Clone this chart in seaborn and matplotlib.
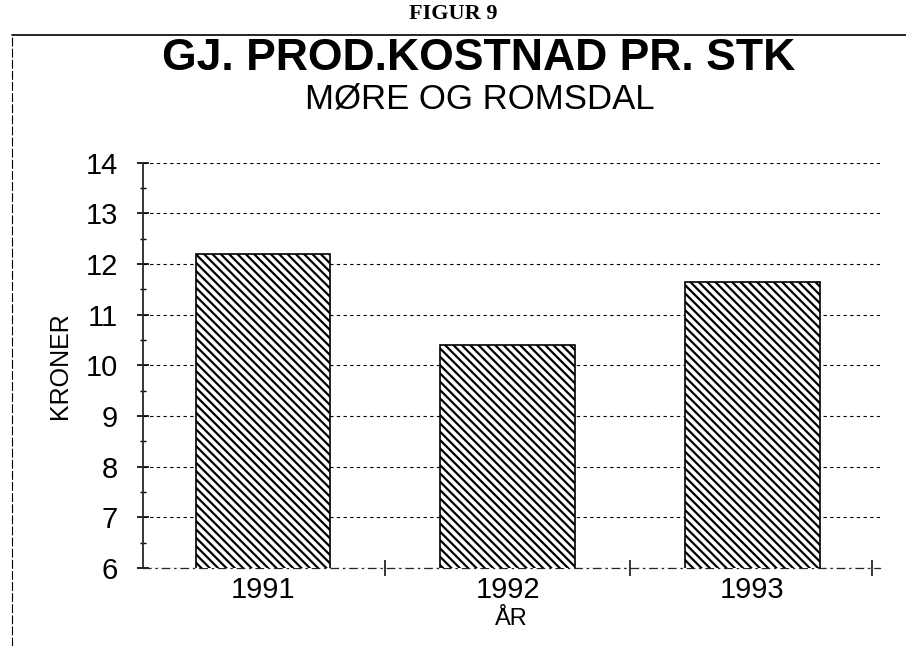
import numpy as np
import pandas as pd
import matplotlib
matplotlib.use("Agg")
import matplotlib.pyplot as plt
import seaborn as sns
from matplotlib.lines import Line2D
from matplotlib.ticker import MultipleLocator, FixedLocator

years = ["1991", "1992", "1993"]
kroner = [12.2, 10.4, 11.65]
yticks = [6, 7, 8, 9, 10, 11, 12, 13, 14]

sns.set_style("white")
plt.rcParams['font.family'] = ['Liberation Sans', 'DejaVu Sans']
plt.rcParams['hatch.linewidth'] = 1.6
plt.rcParams['text.color'] = 'black'
plt.rcParams['axes.labelcolor'] = 'black'
plt.rcParams['xtick.color'] = 'black'
plt.rcParams['ytick.color'] = 'black'

df = pd.DataFrame({"year": years, "kroner": kroner})

fig = plt.figure(figsize=(9.06, 6.46), dpi=100)
ax = fig.add_axes([0.158, 0.121, 0.813, 0.627])

sns.barplot(data=df, x="year", y="kroner", color="white", width=0.55,
            edgecolor="black", linewidth=1.2, ax=ax, zorder=3)
for p in ax.patches:
    p.set_hatch("\\\\\\\\")
    p.set_facecolor("white")
    p.set_edgecolor("black")

ax.set_ylim(6, 14)
ax.set_xlim(-0.49, 2.52)
ax.set_yticks(yticks)
ax.yaxis.set_minor_locator(MultipleLocator(0.5))
ax.xaxis.set_minor_locator(FixedLocator([0.5, 1.5, 2.49]))
ax.grid(axis="y", which="major", linestyle=(0, (3, 3)), color="black",
        linewidth=0.8, zorder=0)
ax.set_axisbelow(True)

for s in ["top", "right"]:
    ax.spines[s].set_visible(False)
ax.spines["left"].set_linewidth(1.3)
ax.spines["bottom"].set_linestyle((0, (6, 4, 1, 4)))
ax.spines["bottom"].set_linewidth(0.9)

ax.tick_params(axis="y", which="major", direction="inout", length=8, width=1.2,
               labelsize=21, left=True, pad=14)
ax.tick_params(axis="y", which="minor", direction="inout", length=5, width=1, left=True)
ax.tick_params(axis="x", which="major", length=0, labelsize=21, pad=6)
ax.tick_params(axis="x", which="minor", direction="inout", length=12, width=1.1, bottom=True)

ax.set_ylabel("KRONER", fontsize=18, labelpad=10)
ax.set_xlabel("ÅR", fontsize=17, labelpad=3)

fig.text(0.5, 0.978, "FIGUR 9", ha="center", va="center", fontsize=16,
         fontweight="bold", family=["Liberation Serif", "DejaVu Serif"])
fig.text(0.528, 0.909, "GJ. PROD.KOSTNAD PR. STK", ha="center", va="center",
         fontsize=32, fontweight="bold")
fig.text(0.53, 0.846, "MØRE OG ROMSDAL", ha="center", va="center", fontsize=25)

# frame lines of the original sheet
fig.add_artist(Line2D([0.013, 1.0], [0.946, 0.946], color="black", linewidth=1.2,
                      transform=fig.transFigure))
fig.add_artist(Line2D([0.013, 0.013], [0.0, 0.946], color="black", linewidth=0.8,
                      linestyle=(0, (8, 2)), transform=fig.transFigure))

fig.savefig("out.png", dpi=100)
